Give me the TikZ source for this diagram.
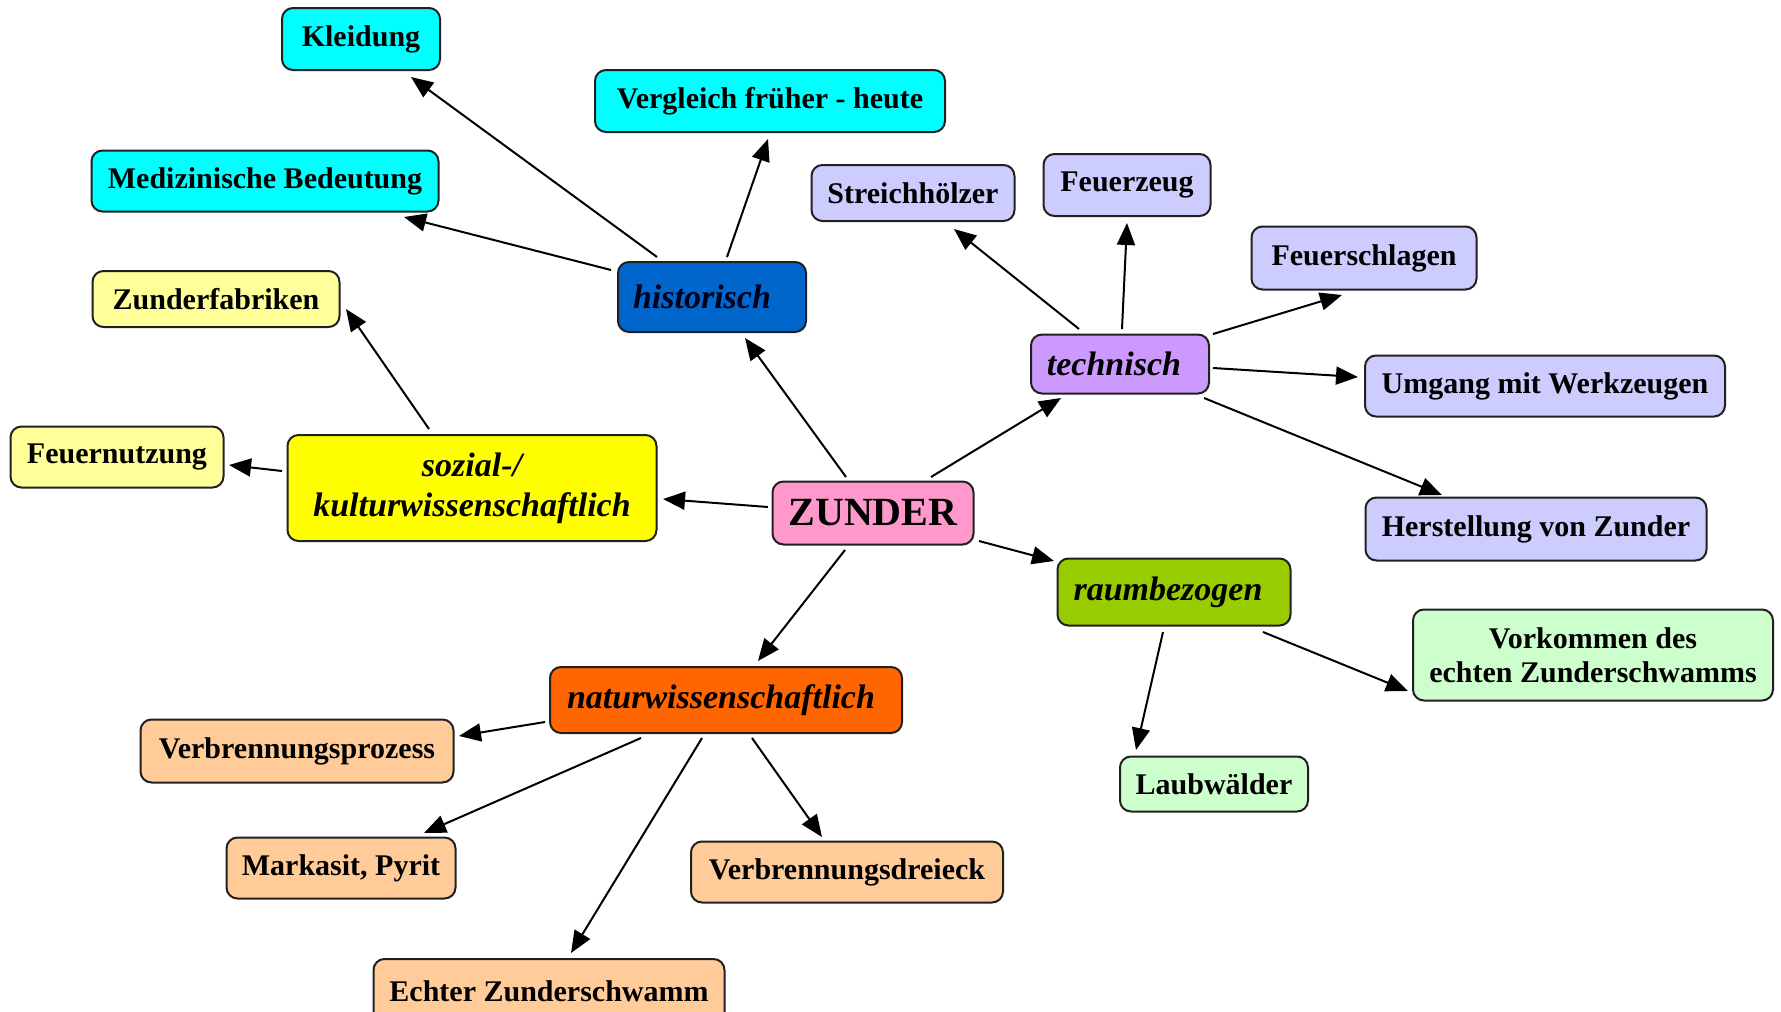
\documentclass[tikz,border=0pt]{standalone}
\usepackage{fontspec}
\setmainfont{Liberation Serif}
\usetikzlibrary{arrows.meta}
\definecolor{cCyan}{HTML}{00FFFF}
\definecolor{cBlue}{HTML}{0066CC}
\definecolor{cLav}{HTML}{CCCCFF}
\definecolor{cPurp}{HTML}{CC99FF}
\definecolor{cLYel}{HTML}{FFFF99}
\definecolor{cYel}{HTML}{FFFF00}
\definecolor{cPink}{HTML}{FF99CC}
\definecolor{cGreen}{HTML}{99CC00}
\definecolor{cLGreen}{HTML}{CCFFCC}
\definecolor{cOrange}{HTML}{FF6600}
\definecolor{cPeach}{HTML}{FFCC99}
\definecolor{cEdge}{HTML}{202020}
\tikzset{
  box/.style={draw=cEdge, line width=2pt, rounded corners=11pt, inner sep=0pt,
    align=center, font=\fontsize{30}{34}\selectfont\bfseries, text=black},
  cat/.style={box, font=\fontsize{34}{40}\selectfont\bfseries\itshape},
  conn/.style={line width=2pt, -{Triangle[length=22pt,width=18pt]}}
}
\begin{document}
\begin{tikzpicture}[x=1pt,y=-1pt]
\useasboundingbox (0,0) rectangle (1781,1012);
% leaves
\node[box, fill=cCyan, minimum width=158pt, minimum height=62pt] (kleid) at (361,39) {Kleidung};
\node[box, fill=cCyan, minimum width=350pt, minimum height=62pt] (vergl) at (770,101) {Vergleich früher - heute};
\node[box, fill=cCyan, minimum width=347pt, minimum height=61pt] (medi) at (265,181) {Medizinische Bedeutung};
\node[box, fill=cLav, minimum width=203pt, minimum height=56pt] (streich) at (913,193) {Streichhölzer};
\node[box, fill=cLav, minimum width=167pt, minimum height=62pt] (feuerz) at (1127,185) {Feuerzeug};
\node[box, fill=cLav, minimum width=225pt, minimum height=63pt] (feuers) at (1364,258) {Feuerschlagen};
\node[box, fill=cLav, minimum width=360pt, minimum height=61pt] (umgang) at (1545,386) {Umgang mit Werkzeugen};
\node[box, fill=cLav, minimum width=341pt, minimum height=63pt] (herst) at (1536,529) {Herstellung von Zunder};
\node[box, fill=cLYel, minimum width=247pt, minimum height=56pt] (zfab) at (216,299) {Zunderfabriken};
\node[box, fill=cLYel, minimum width=213pt, minimum height=61pt] (feuern) at (117,457) {Feuernutzung};
\node[box, fill=cLGreen, minimum width=360pt, minimum height=91pt] (vork) at (1593,655) {Vorkommen des\\echten Zunderschwamms};
\node[box, fill=cLGreen, minimum width=188pt, minimum height=55pt] (laub) at (1214,784) {Laubwälder};
\node[box, fill=cPeach, minimum width=313pt, minimum height=63pt] (vprozess) at (297,751) {Verbrennungsprozess};
\node[box, fill=cPeach, minimum width=229pt, minimum height=61pt] (mark) at (341,868) {Markasit, Pyrit};
\node[box, fill=cPeach, minimum width=312pt, minimum height=61pt] (vdrei) at (847,872) {Verbrennungsdreieck};
\node[box, fill=cPeach, minimum width=351pt, minimum height=64pt] (echter) at (549,991) {Echter Zunderschwamm};
% categories
\node[cat, fill=cBlue, minimum width=188pt, minimum height=70pt, text=black!90!blue] (hist) at (712,297) {historisch\hspace*{20pt}};
\node[cat, fill=cPurp, minimum width=178pt, minimum height=59pt] (tech) at (1120,364) {technisch\hspace*{12pt}};
\node[cat, fill=cYel, minimum width=369pt, minimum height=106pt] (sozial) at (472,488) {sozial-/\\kulturwissenschaftlich};
\node[cat, fill=cGreen, minimum width=233pt, minimum height=67pt] (raum) at (1174,592) {raumbezogen\hspace*{12pt}};
\node[cat, fill=cOrange, minimum width=352pt, minimum height=66pt] (natur) at (726,700) {naturwissenschaftlich\hspace*{10pt}};
% center
\node[box, fill=cPink, minimum width=201pt, minimum height=63pt, font=\fontsize{40}{46}\selectfont\bfseries] (zunder) at (873,513) {ZUNDER};
% connectors
\draw[conn] ([shift={(-55,-40)}]hist.center) -- ([shift={(50,38)}]kleid.center);
\draw[conn] ([shift={(15,-40)}]hist.center) -- ([shift={(-2,38)}]vergl.center);
\draw[conn] ([shift={(-101,-27)}]hist.center) -- ([shift={(139,36)}]medi.center);
\draw[conn] ([shift={(-27,-36)}]zunder.center) -- ([shift={(33,41)}]hist.center);
\draw[conn] ([shift={(-105,-6)}]zunder.center) -- ([shift={(191,11)}]sozial.center);
\draw[conn] ([shift={(-43,-59)}]sozial.center) -- ([shift={(130,10)}]zfab.center);
\draw[conn] ([shift={(-190,-17)}]sozial.center) -- ([shift={(112,8)}]feuern.center);
\draw[conn] ([shift={(58,-36)}]zunder.center) -- ([shift={(-59,34)}]tech.center);
\draw[conn] ([shift={(-41,-35)}]tech.center) -- ([shift={(41,36)}]streich.center);
\draw[conn] ([shift={(2,-35)}]tech.center) -- ([shift={(0,38)}]feuerz.center);
\draw[conn] ([shift={(93,-30)}]tech.center) -- ([shift={(-22,37)}]feuers.center);
\draw[conn] ([shift={(93,4)}]tech.center) -- ([shift={(-187,-9)}]umgang.center);
\draw[conn] ([shift={(84,34)}]tech.center) -- ([shift={(-94,-34)}]herst.center);
\draw[conn] ([shift={(106,28)}]zunder.center) -- ([shift={(-120,-31)}]raum.center);
\draw[conn] ([shift={(89,40)}]raum.center) -- ([shift={(-185,36)}]vork.center);
\draw[conn] ([shift={(-11,40)}]raum.center) -- ([shift={(-78,-34)}]laub.center);
\draw[conn] ([shift={(-28,37)}]zunder.center) -- ([shift={(32,-39)}]natur.center);
\draw[conn] ([shift={(-181,22)}]natur.center) -- ([shift={(162,-15)}]vprozess.center);
\draw[conn] ([shift={(-85,38)}]natur.center) -- ([shift={(83,-35)}]mark.center);
\draw[conn] ([shift={(-24,38)}]natur.center) -- ([shift={(22,-38)}]echter.center);
\draw[conn] ([shift={(26,38)}]natur.center) -- ([shift={(-25,-35)}]vdrei.center);
\end{tikzpicture}
\end{document}
